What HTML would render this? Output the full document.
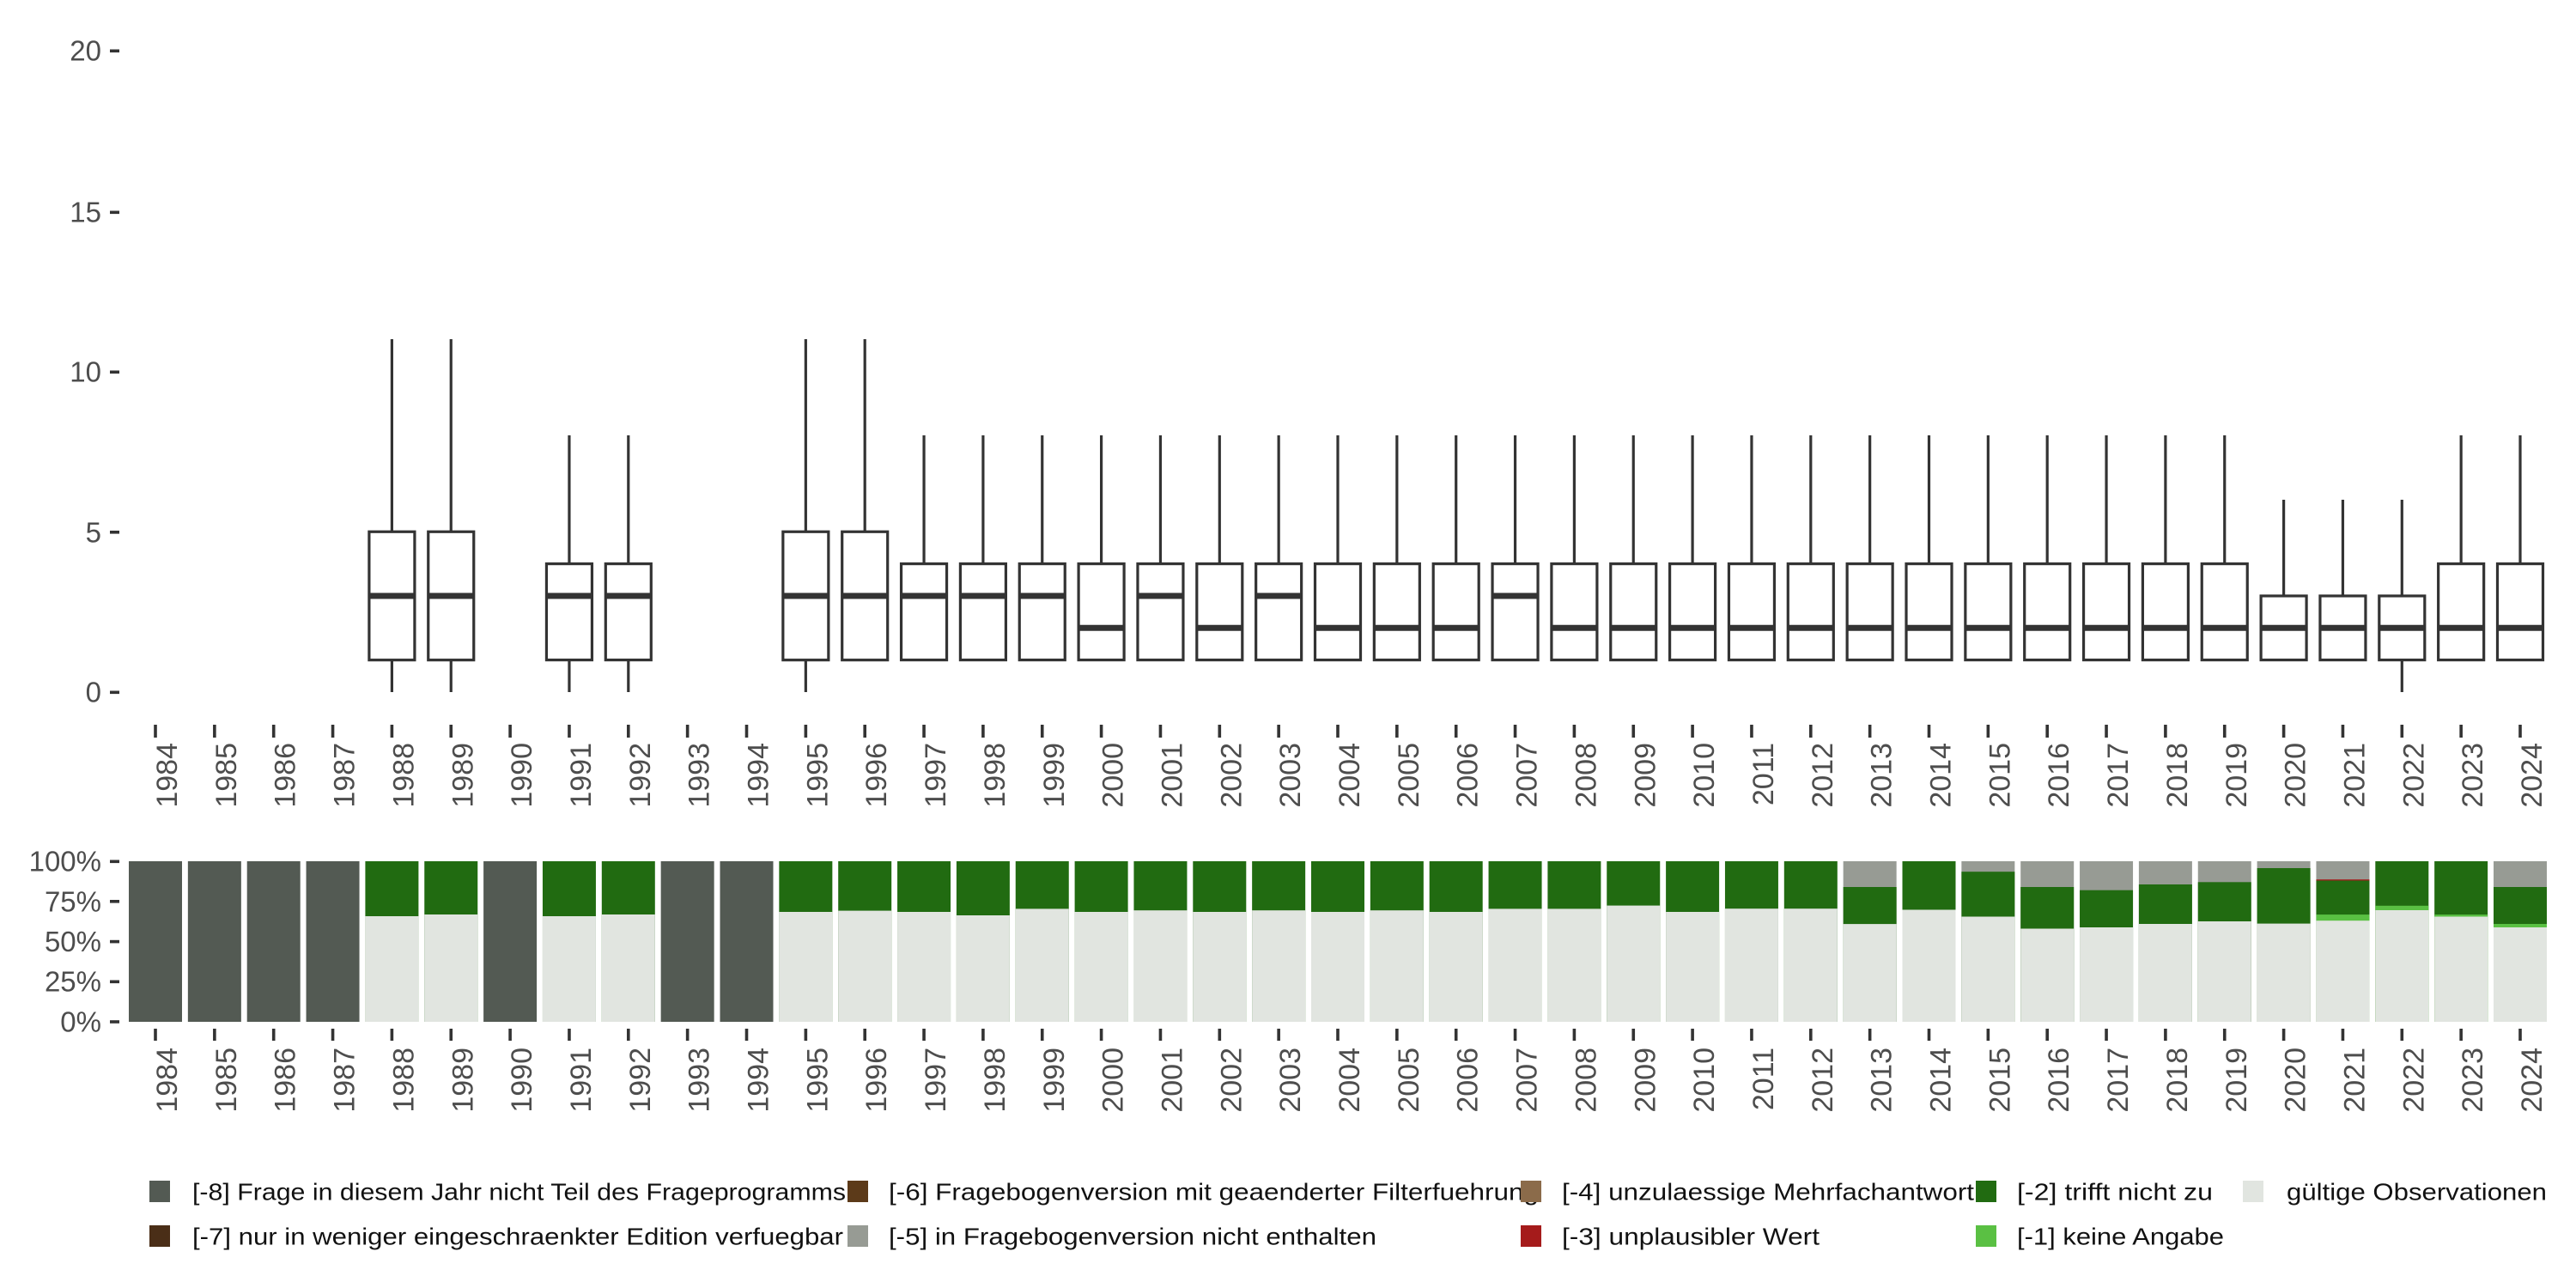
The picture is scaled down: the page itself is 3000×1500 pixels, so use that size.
<!DOCTYPE html>
<html><head><meta charset="utf-8"><style>
html,body{margin:0;padding:0;background:#fff;width:3000px;height:1500px;overflow:hidden}
svg{display:block}
text{font-family:"Liberation Sans","DejaVu Sans",sans-serif;fill:#4d4d4d}
.yl{font-size:33px;text-anchor:end;dominant-baseline:central}
.xl{font-size:34px;text-anchor:end}
.lg{font-size:28px;fill:#111;dominant-baseline:central}
</style></head><body>
<svg width="3000" height="1500" viewBox="0 0 3000 1500" xmlns="http://www.w3.org/2000/svg">
<defs>
<g id="bA" stroke="#333" stroke-width="3.2" fill="#fff"><line x1="0" y1="395" x2="0" y2="619"/><line x1="0" y1="769" x2="0" y2="806"/><rect x="-26.5" y="619.25" width="53" height="149.4"/><line x1="-26.5" y1="694" x2="26.5" y2="694" stroke-width="7"/></g>
<g id="bB" stroke="#333" stroke-width="3.2" fill="#fff"><line x1="0" y1="507" x2="0" y2="657"/><line x1="0" y1="769" x2="0" y2="806"/><rect x="-26.5" y="656.6" width="53" height="112"/><line x1="-26.5" y1="694" x2="26.5" y2="694" stroke-width="7"/></g>
<g id="bC" stroke="#333" stroke-width="3.2" fill="#fff"><line x1="0" y1="395" x2="0" y2="619"/><rect x="-26.5" y="619.25" width="53" height="149.4"/><line x1="-26.5" y1="694" x2="26.5" y2="694" stroke-width="7"/></g>
<g id="bD" stroke="#333" stroke-width="3.2" fill="#fff"><line x1="0" y1="507" x2="0" y2="657"/><rect x="-26.5" y="656.6" width="53" height="112"/><line x1="-26.5" y1="694" x2="26.5" y2="694" stroke-width="7"/></g>
<g id="bE" stroke="#333" stroke-width="3.2" fill="#fff"><line x1="0" y1="507" x2="0" y2="657"/><rect x="-26.5" y="656.6" width="53" height="112"/><line x1="-26.5" y1="731.3" x2="26.5" y2="731.3" stroke-width="7"/></g>
<g id="bF" stroke="#333" stroke-width="3.2" fill="#fff"><line x1="0" y1="582" x2="0" y2="694"/><rect x="-26.5" y="694" width="53" height="74.6"/><line x1="-26.5" y1="731.3" x2="26.5" y2="731.3" stroke-width="7"/></g>
<g id="bG" stroke="#333" stroke-width="3.2" fill="#fff"><line x1="0" y1="582" x2="0" y2="694"/><line x1="0" y1="769" x2="0" y2="806"/><rect x="-26.5" y="694" width="53" height="74.6"/><line x1="-26.5" y1="731.3" x2="26.5" y2="731.3" stroke-width="7"/></g>
<g id="tk"><rect x="-1.8" y="844" width="3.6" height="15" fill="#333"/><rect x="-1.8" y="1198" width="3.6" height="14" fill="#333"/></g>
</defs>

<g fill="#333"><rect x="128" y="57.5" width="11" height="3.6"/><rect x="128" y="245.5" width="11" height="3.6"/><rect x="128" y="431.5" width="11" height="3.6"/><rect x="128" y="618" width="11" height="3.6"/><rect x="128" y="804.5" width="11" height="3.6"/></g>
<text class="yl" x="118" y="59">20</text><text class="yl" x="118" y="247">15</text><text class="yl" x="118" y="433">10</text><text class="yl" x="118" y="620">5</text><text class="yl" x="118" y="806">0</text>

<use href="#bA" x="456.4"/><use href="#bA" x="525.25"/>
<use href="#bB" x="662.95"/><use href="#bB" x="731.8"/>
<use href="#bA" x="938.35"/><use href="#bC" x="1007.2"/>
<use href="#bD" x="1076.05"/><use href="#bD" x="1144.9"/><use href="#bD" x="1213.75"/><use href="#bE" x="1282.6"/><use href="#bD" x="1351.45"/><use href="#bE" x="1420.3"/><use href="#bD" x="1489.15"/><use href="#bE" x="1558"/><use href="#bE" x="1626.85"/><use href="#bE" x="1695.7"/><use href="#bD" x="1764.55"/>
<use href="#bE" x="1833.4"/><use href="#bE" x="1902.25"/><use href="#bE" x="1971.1"/><use href="#bE" x="2039.95"/><use href="#bE" x="2108.8"/><use href="#bE" x="2177.65"/><use href="#bE" x="2246.5"/><use href="#bE" x="2315.35"/><use href="#bE" x="2384.2"/><use href="#bE" x="2453.05"/><use href="#bE" x="2521.9"/><use href="#bE" x="2590.75"/>
<use href="#bF" x="2659.6"/><use href="#bF" x="2728.45"/><use href="#bG" x="2797.3"/><use href="#bE" x="2866.15"/><use href="#bE" x="2935"/>

<g fill="#333"><rect x="128" y="1001.5" width="11" height="3.6"/><rect x="128" y="1048" width="11" height="3.6"/><rect x="128" y="1094.8" width="11" height="3.6"/><rect x="128" y="1141.5" width="11" height="3.6"/><rect x="128" y="1188.2" width="11" height="3.6"/></g>
<text class="yl" x="118" y="1003">100%</text><text class="yl" x="118" y="1050">75%</text><text class="yl" x="118" y="1096.5">50%</text><text class="yl" x="118" y="1143">25%</text><text class="yl" x="118" y="1190">0%</text>

<g fill="#535a53">
<rect x="150" y="1003" width="62" height="187"/><rect x="218.85" y="1003" width="62" height="187"/><rect x="287.7" y="1003" width="62" height="187"/><rect x="356.55" y="1003" width="62" height="187"/><rect x="563.1" y="1003" width="62" height="187"/><rect x="769.65" y="1003" width="62" height="187"/><rect x="838.5" y="1003" width="62" height="187"/>
</g>
<g fill="#216b11">
<rect x="425.4" y="1003" width="62" height="187"/><rect x="494.25" y="1003" width="62" height="187"/><rect x="631.95" y="1003" width="62" height="187"/><rect x="700.8" y="1003" width="62" height="187"/>
<rect x="907.35" y="1003" width="62" height="187"/><rect x="976.2" y="1003" width="62" height="187"/><rect x="1045.05" y="1003" width="62" height="187"/><rect x="1113.9" y="1003" width="62" height="187"/><rect x="1182.75" y="1003" width="62" height="187"/><rect x="1251.6" y="1003" width="62" height="187"/><rect x="1320.45" y="1003" width="62" height="187"/><rect x="1389.3" y="1003" width="62" height="187"/><rect x="1458.15" y="1003" width="62" height="187"/><rect x="1527" y="1003" width="62" height="187"/><rect x="1595.85" y="1003" width="62" height="187"/><rect x="1664.7" y="1003" width="62" height="187"/><rect x="1733.55" y="1003" width="62" height="187"/><rect x="1802.4" y="1003" width="62" height="187"/><rect x="1871.25" y="1003" width="62" height="187"/><rect x="1940.1" y="1003" width="62" height="187"/><rect x="2008.95" y="1003" width="62" height="187"/><rect x="2077.8" y="1003" width="62" height="187"/>
<rect x="2215.5" y="1003" width="62" height="187"/><rect x="2766.3" y="1003" width="62" height="187"/><rect x="2835.15" y="1003" width="62" height="187"/>
</g>
<g fill="#979b94">
<rect x="2146.65" y="1003" width="62" height="187"/><rect x="2284.35" y="1003" width="62" height="187"/><rect x="2353.2" y="1003" width="62" height="187"/><rect x="2422.05" y="1003" width="62" height="187"/><rect x="2490.9" y="1003" width="62" height="187"/><rect x="2559.75" y="1003" width="62" height="187"/><rect x="2628.6" y="1003" width="62" height="187"/><rect x="2697.45" y="1003" width="62" height="187"/><rect x="2904" y="1003" width="62" height="187"/>
</g>
<g fill="#216b11">
<rect x="2146.65" y="1033" width="62" height="157"/><rect x="2284.35" y="1015.2" width="62" height="174.8"/><rect x="2353.2" y="1033" width="62" height="157"/><rect x="2422.05" y="1036.7" width="62" height="153.3"/><rect x="2490.9" y="1030" width="62" height="160"/><rect x="2559.75" y="1027.3" width="62" height="162.7"/><rect x="2628.6" y="1011" width="62" height="179"/><rect x="2697.45" y="1025.4" width="62" height="164.6"/><rect x="2904" y="1033" width="62" height="157"/>
</g>
<rect x="2697.45" y="1024.2" width="62" height="1.3" fill="#a51b1b"/>
<g fill="#5ac043">
<rect x="2697.45" y="1065.1" width="62" height="124.9"/><rect x="2766.3" y="1054.8" width="62" height="135.2"/><rect x="2835.15" y="1065.1" width="62" height="124.9"/><rect x="2904" y="1076" width="62" height="114"/>
</g>
<g fill="#e1e5e0">
<rect x="425.4" y="1067" width="62" height="123"/><rect x="494.25" y="1065" width="62" height="125"/><rect x="631.95" y="1067" width="62" height="123"/><rect x="700.8" y="1065" width="62" height="125"/>
<rect x="907.35" y="1062" width="62" height="128"/><rect x="976.2" y="1060.6" width="62" height="129.4"/><rect x="1045.05" y="1062" width="62" height="128"/><rect x="1113.9" y="1066" width="62" height="124"/><rect x="1182.75" y="1058.4" width="62" height="131.6"/><rect x="1251.6" y="1062" width="62" height="128"/><rect x="1320.45" y="1060.2" width="62" height="129.8"/><rect x="1389.3" y="1062" width="62" height="128"/><rect x="1458.15" y="1060.2" width="62" height="129.8"/><rect x="1527" y="1062" width="62" height="128"/><rect x="1595.85" y="1060.2" width="62" height="129.8"/><rect x="1664.7" y="1062" width="62" height="128"/><rect x="1733.55" y="1058.4" width="62" height="131.6"/><rect x="1802.4" y="1058.4" width="62" height="131.6"/><rect x="1871.25" y="1054.6" width="62" height="135.4"/><rect x="1940.1" y="1062" width="62" height="128"/><rect x="2008.95" y="1058.2" width="62" height="131.8"/><rect x="2077.8" y="1058.2" width="62" height="131.8"/>
<rect x="2146.65" y="1076.1" width="62" height="113.9"/><rect x="2215.5" y="1059.5" width="62" height="130.5"/><rect x="2284.35" y="1067.5" width="62" height="122.5"/><rect x="2353.2" y="1081.5" width="62" height="108.5"/><rect x="2422.05" y="1080" width="62" height="110"/><rect x="2490.9" y="1076" width="62" height="114"/><rect x="2559.75" y="1073" width="62" height="117"/><rect x="2628.6" y="1075.6" width="62" height="114.4"/><rect x="2697.45" y="1072.2" width="62" height="117.8"/><rect x="2766.3" y="1060" width="62" height="130"/><rect x="2835.15" y="1067.5" width="62" height="122.5"/><rect x="2904" y="1080" width="62" height="110"/>
</g>
<rect x="140" y="1190.3" width="2850" height="7" fill="#fff"/>

<use href="#tk" x="181"/><use href="#tk" x="249.85"/><use href="#tk" x="318.7"/><use href="#tk" x="387.55"/><use href="#tk" x="456.4"/><use href="#tk" x="525.25"/><use href="#tk" x="594.1"/><use href="#tk" x="662.95"/><use href="#tk" x="731.8"/><use href="#tk" x="800.65"/><use href="#tk" x="869.5"/><use href="#tk" x="938.35"/><use href="#tk" x="1007.2"/><use href="#tk" x="1076.05"/><use href="#tk" x="1144.9"/><use href="#tk" x="1213.75"/><use href="#tk" x="1282.6"/><use href="#tk" x="1351.45"/><use href="#tk" x="1420.3"/><use href="#tk" x="1489.15"/><use href="#tk" x="1558"/><use href="#tk" x="1626.85"/><use href="#tk" x="1695.7"/><use href="#tk" x="1764.55"/><use href="#tk" x="1833.4"/><use href="#tk" x="1902.25"/><use href="#tk" x="1971.1"/><use href="#tk" x="2039.95"/><use href="#tk" x="2108.8"/><use href="#tk" x="2177.65"/><use href="#tk" x="2246.5"/><use href="#tk" x="2315.35"/><use href="#tk" x="2384.2"/><use href="#tk" x="2453.05"/><use href="#tk" x="2521.9"/><use href="#tk" x="2590.75"/><use href="#tk" x="2659.6"/><use href="#tk" x="2728.45"/><use href="#tk" x="2797.3"/><use href="#tk" x="2866.15"/><use href="#tk" x="2935"/>

<g>
<text class="xl" transform="translate(206,865) rotate(-90)">1984</text><text class="xl" transform="translate(274.85,865) rotate(-90)">1985</text><text class="xl" transform="translate(343.7,865) rotate(-90)">1986</text><text class="xl" transform="translate(412.55,865) rotate(-90)">1987</text><text class="xl" transform="translate(481.4,865) rotate(-90)">1988</text><text class="xl" transform="translate(550.25,865) rotate(-90)">1989</text><text class="xl" transform="translate(619.1,865) rotate(-90)">1990</text><text class="xl" transform="translate(687.95,865) rotate(-90)">1991</text><text class="xl" transform="translate(756.8,865) rotate(-90)">1992</text><text class="xl" transform="translate(825.65,865) rotate(-90)">1993</text><text class="xl" transform="translate(894.5,865) rotate(-90)">1994</text><text class="xl" transform="translate(963.35,865) rotate(-90)">1995</text><text class="xl" transform="translate(1032.2,865) rotate(-90)">1996</text><text class="xl" transform="translate(1101.05,865) rotate(-90)">1997</text><text class="xl" transform="translate(1169.9,865) rotate(-90)">1998</text><text class="xl" transform="translate(1238.75,865) rotate(-90)">1999</text><text class="xl" transform="translate(1307.6,865) rotate(-90)">2000</text><text class="xl" transform="translate(1376.45,865) rotate(-90)">2001</text><text class="xl" transform="translate(1445.3,865) rotate(-90)">2002</text><text class="xl" transform="translate(1514.15,865) rotate(-90)">2003</text><text class="xl" transform="translate(1583,865) rotate(-90)">2004</text><text class="xl" transform="translate(1651.85,865) rotate(-90)">2005</text><text class="xl" transform="translate(1720.7,865) rotate(-90)">2006</text><text class="xl" transform="translate(1789.55,865) rotate(-90)">2007</text><text class="xl" transform="translate(1858.4,865) rotate(-90)">2008</text><text class="xl" transform="translate(1927.25,865) rotate(-90)">2009</text><text class="xl" transform="translate(1996.1,865) rotate(-90)">2010</text><text class="xl" transform="translate(2064.95,865) rotate(-90)">2011</text><text class="xl" transform="translate(2133.8,865) rotate(-90)">2012</text><text class="xl" transform="translate(2202.65,865) rotate(-90)">2013</text><text class="xl" transform="translate(2271.5,865) rotate(-90)">2014</text><text class="xl" transform="translate(2340.35,865) rotate(-90)">2015</text><text class="xl" transform="translate(2409.2,865) rotate(-90)">2016</text><text class="xl" transform="translate(2478.05,865) rotate(-90)">2017</text><text class="xl" transform="translate(2546.9,865) rotate(-90)">2018</text><text class="xl" transform="translate(2615.75,865) rotate(-90)">2019</text><text class="xl" transform="translate(2684.6,865) rotate(-90)">2020</text><text class="xl" transform="translate(2753.45,865) rotate(-90)">2021</text><text class="xl" transform="translate(2822.3,865) rotate(-90)">2022</text><text class="xl" transform="translate(2891.15,865) rotate(-90)">2023</text><text class="xl" transform="translate(2960,865) rotate(-90)">2024</text>
</g>
<g>
<text class="xl" transform="translate(206,1220) rotate(-90)">1984</text><text class="xl" transform="translate(274.85,1220) rotate(-90)">1985</text><text class="xl" transform="translate(343.7,1220) rotate(-90)">1986</text><text class="xl" transform="translate(412.55,1220) rotate(-90)">1987</text><text class="xl" transform="translate(481.4,1220) rotate(-90)">1988</text><text class="xl" transform="translate(550.25,1220) rotate(-90)">1989</text><text class="xl" transform="translate(619.1,1220) rotate(-90)">1990</text><text class="xl" transform="translate(687.95,1220) rotate(-90)">1991</text><text class="xl" transform="translate(756.8,1220) rotate(-90)">1992</text><text class="xl" transform="translate(825.65,1220) rotate(-90)">1993</text><text class="xl" transform="translate(894.5,1220) rotate(-90)">1994</text><text class="xl" transform="translate(963.35,1220) rotate(-90)">1995</text><text class="xl" transform="translate(1032.2,1220) rotate(-90)">1996</text><text class="xl" transform="translate(1101.05,1220) rotate(-90)">1997</text><text class="xl" transform="translate(1169.9,1220) rotate(-90)">1998</text><text class="xl" transform="translate(1238.75,1220) rotate(-90)">1999</text><text class="xl" transform="translate(1307.6,1220) rotate(-90)">2000</text><text class="xl" transform="translate(1376.45,1220) rotate(-90)">2001</text><text class="xl" transform="translate(1445.3,1220) rotate(-90)">2002</text><text class="xl" transform="translate(1514.15,1220) rotate(-90)">2003</text><text class="xl" transform="translate(1583,1220) rotate(-90)">2004</text><text class="xl" transform="translate(1651.85,1220) rotate(-90)">2005</text><text class="xl" transform="translate(1720.7,1220) rotate(-90)">2006</text><text class="xl" transform="translate(1789.55,1220) rotate(-90)">2007</text><text class="xl" transform="translate(1858.4,1220) rotate(-90)">2008</text><text class="xl" transform="translate(1927.25,1220) rotate(-90)">2009</text><text class="xl" transform="translate(1996.1,1220) rotate(-90)">2010</text><text class="xl" transform="translate(2064.95,1220) rotate(-90)">2011</text><text class="xl" transform="translate(2133.8,1220) rotate(-90)">2012</text><text class="xl" transform="translate(2202.65,1220) rotate(-90)">2013</text><text class="xl" transform="translate(2271.5,1220) rotate(-90)">2014</text><text class="xl" transform="translate(2340.35,1220) rotate(-90)">2015</text><text class="xl" transform="translate(2409.2,1220) rotate(-90)">2016</text><text class="xl" transform="translate(2478.05,1220) rotate(-90)">2017</text><text class="xl" transform="translate(2546.9,1220) rotate(-90)">2018</text><text class="xl" transform="translate(2615.75,1220) rotate(-90)">2019</text><text class="xl" transform="translate(2684.6,1220) rotate(-90)">2020</text><text class="xl" transform="translate(2753.45,1220) rotate(-90)">2021</text><text class="xl" transform="translate(2822.3,1220) rotate(-90)">2022</text><text class="xl" transform="translate(2891.15,1220) rotate(-90)">2023</text><text class="xl" transform="translate(2960,1220) rotate(-90)">2024</text>
</g>

<rect x="174" y="1375" width="24" height="25" fill="#535a53"/>
<text class="lg" x="224" y="1388" textLength="761" lengthAdjust="spacingAndGlyphs">[-8] Frage in diesem Jahr nicht Teil des Frageprogramms</text>
<rect x="174" y="1427" width="24" height="25" fill="#4a2e17"/>
<text class="lg" x="224" y="1440" textLength="758" lengthAdjust="spacingAndGlyphs">[-7] nur in weniger eingeschraenkter Edition verfuegbar</text>
<rect x="987" y="1375" width="24" height="25" fill="#5c3a19"/>
<text class="lg" x="1035" y="1388" textLength="757" lengthAdjust="spacingAndGlyphs">[-6] Fragebogenversion mit geaenderter Filterfuehrung</text>
<rect x="987" y="1427" width="24" height="25" fill="#979b94"/>
<text class="lg" x="1035" y="1440" textLength="568" lengthAdjust="spacingAndGlyphs">[-5] in Fragebogenversion nicht enthalten</text>
<rect x="1771" y="1375" width="24" height="25" fill="#8b6b4a"/>
<text class="lg" x="1819" y="1388" textLength="480" lengthAdjust="spacingAndGlyphs">[-4] unzulaessige Mehrfachantwort</text>
<rect x="1771" y="1427" width="24" height="25" fill="#a51b1b"/>
<text class="lg" x="1819" y="1440" textLength="300" lengthAdjust="spacingAndGlyphs">[-3] unplausibler Wert</text>
<rect x="2301" y="1375" width="24" height="25" fill="#216b11"/>
<text class="lg" x="2349" y="1388" textLength="228" lengthAdjust="spacingAndGlyphs">[-2] trifft nicht zu</text>
<rect x="2301" y="1427" width="24" height="25" fill="#5ac043"/>
<text class="lg" x="2349" y="1440" textLength="241" lengthAdjust="spacingAndGlyphs">[-1] keine Angabe</text>
<rect x="2612" y="1375" width="24" height="25" fill="#e1e5e0"/>
<text class="lg" x="2663" y="1388" textLength="303" lengthAdjust="spacingAndGlyphs">gültige Observationen</text>
</svg>
</body></html>
